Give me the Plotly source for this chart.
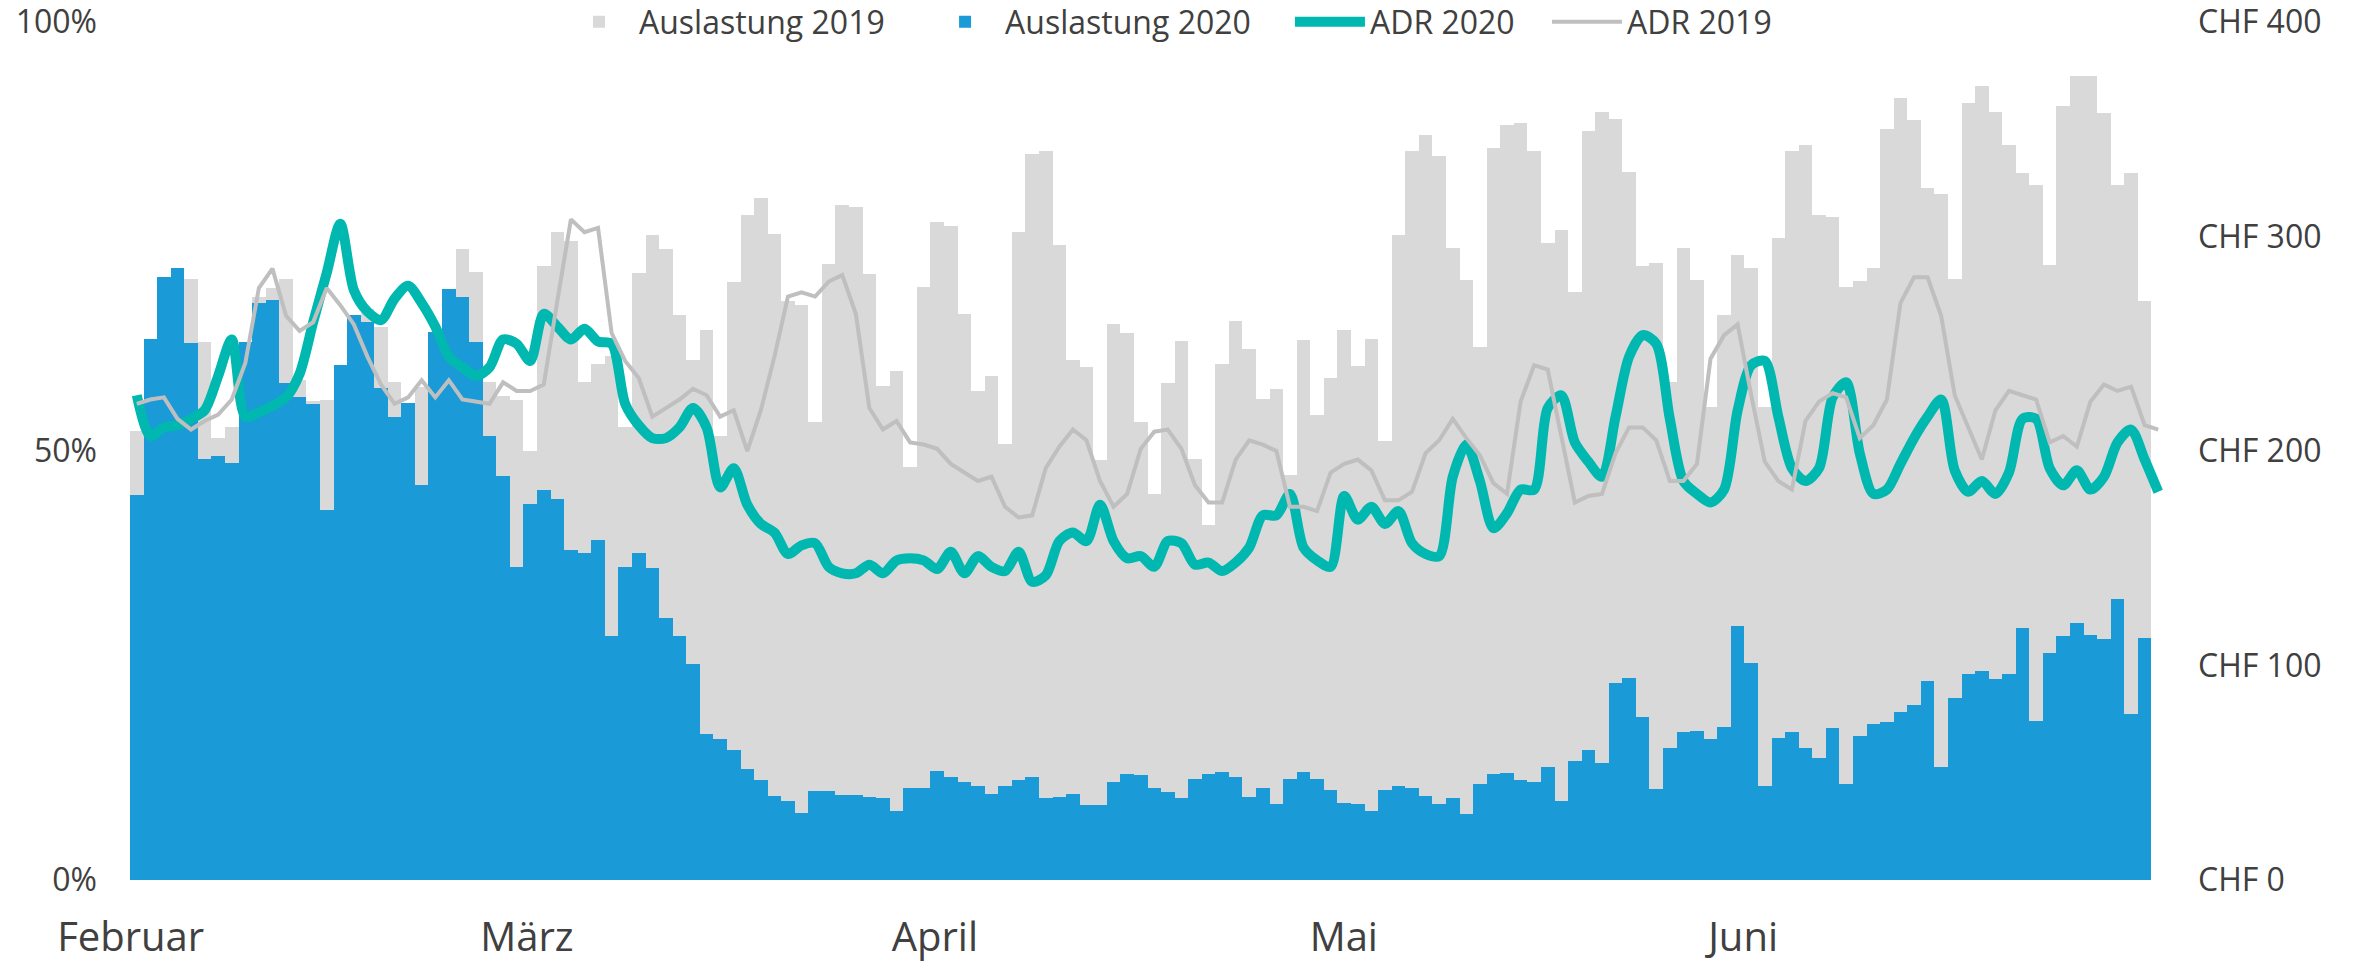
import pandas as pd
import plotly.graph_objects as go

# Tage 1. Februar bis 29. Juni 2020
days = pd.date_range("2020-02-01", periods=150, freq="D")

month_labels = ["Februar", "März", "April", "Mai", "Juni"]

# Auslastung in %
occupancy_2019 = [
    52.3, 58, 62, 60, 70.0, 62.7, 51.5, 52.8, 58, 68,
    69, 70.0, 58.3, 55.8, 55.9, 55, 62, 66.6, 64.5, 58.0,
    54, 57.5, 60, 66, 73.5, 70.9, 58, 56.4, 56.0, 50.0,
    71.6, 75.5, 74.5, 58, 60.1, 61.1, 52.8, 70.8, 75.2, 73.5,
    65.9, 60.6, 64.1, 51.8, 69.7, 77.5, 79.5, 75.3, 67.5, 67.0,
    53.4, 71.8, 78.7, 78.4, 70.6, 57.6, 59.3, 48.1, 69.1, 76.7,
    76.2, 66.0, 57.0, 58.7, 50.8, 75.5, 84.6, 85.0, 74.0, 60.6,
    59.8, 49.0, 64.8, 63.7, 53.4, 45.0, 57.9, 62.8, 49.1, 41.4,
    60.1, 65.1, 61.9, 56.1, 57.2, 47.2, 62.9, 54.2, 58.5, 64.1,
    59.9, 63.1, 51.2, 75.2, 85.0, 86.8, 84.4, 73.7, 69.9, 62.1,
    85.3, 88.0, 88.2, 85.0, 74.3, 75.8, 68.5, 87.3, 89.5, 88.7,
    82.5, 71.6, 71.9, 58.1, 73.7, 69.9, 55.1, 65.8, 72.8, 71.3,
    55.1, 74.8, 85.0, 85.7, 77.5, 77.3, 69.1, 69.8, 71.3, 87.5,
    91.2, 88.6, 80.6, 80.0, 70.1, 90.6, 92.5, 89.5, 85.7, 82.4,
    81.0, 71.7, 90.2, 93.7, 93.7, 89.4, 81.0, 82.4, 67.5, None,
]

occupancy_2020 = [
    44.9, 63.0, 70.3, 71.3, 62.6, 49.1, 49.4, 48.6, 62.7, 67.3,
    67.6, 57.9, 56.3, 55.5, 43.1, 60.0, 65.9, 65.0, 57.3, 54.0,
    55.6, 46.0, 63.9, 68.9, 67.9, 62.7, 51.7, 47.1, 36.5, 43.8,
    45.4, 44.4, 38.5, 38.1, 39.6, 28.4, 36.5, 38.1, 36.4, 30.5,
    28.4, 25.2, 17.0, 16.4, 15.2, 12.9, 11.7, 9.8, 9.2, 7.8,
    10.4, 10.4, 9.9, 9.9, 9.7, 9.5, 8.0, 10.7, 10.7, 12.7,
    12.0, 11.4, 11.0, 10.0, 10.9, 11.6, 12.0, 9.6, 9.7, 10.0,
    8.8, 8.8, 11.4, 12.4, 12.2, 10.7, 10.2, 9.5, 11.8, 12.4,
    12.6, 12.0, 9.7, 10.7, 8.9, 11.8, 12.6, 11.8, 10.5, 9.0,
    8.9, 8.0, 10.5, 11.0, 10.7, 9.8, 8.9, 9.6, 7.7, 11.2,
    12.4, 12.5, 11.7, 11.4, 13.2, 9.2, 13.9, 15.2, 13.6, 23.0,
    23.5, 19.0, 10.6, 15.4, 17.2, 17.4, 16.4, 17.8, 29.6, 25.3,
    11.0, 16.6, 17.3, 15.4, 14.2, 17.7, 11.2, 16.8, 18.2, 18.4,
    19.6, 20.4, 23.2, 13.2, 21.2, 24.0, 24.4, 23.4, 24.0, 29.4,
    18.5, 26.4, 28.4, 29.9, 28.5, 28.1, 32.7, 19.3, 28.2, None,
]

# ADR in CHF
adr_2020 = [
    226, 207, 211, 212, 215, 219, 235, 252, 216, 218,
    221, 225, 236, 260, 283, 306, 275, 265, 261, 271,
    277, 269, 258, 244, 239, 235, 239, 252, 250, 242,
    264, 258, 252, 257, 251, 250, 222, 212, 206, 206,
    211, 220, 211, 183, 192, 175, 166, 162, 152, 156,
    157, 146, 143, 143, 147, 143, 149, 150, 149, 145,
    153, 143, 151, 146, 144, 153, 139, 142, 158, 162,
    158, 175, 158, 150, 151, 146, 158, 157, 147, 148,
    144, 148, 155, 170, 170, 180, 155, 149, 146, 179,
    168, 174, 166, 172, 157, 152, 151, 188, 203, 186,
    164, 171, 182, 182, 220, 226, 204, 195, 188, 216,
    244, 254, 250, 215, 186, 180, 176, 182, 219, 240,
    242, 216, 192, 186, 192, 225, 232, 199, 180, 182,
    194, 206, 216, 224, 191, 181, 186, 180, 190, 215,
    215, 192, 184, 191, 182, 188, 204, 210, 196, 181,
]

adr_2019 = [
    222, 224, 225, 215, 210, 214, 217, 224, 241, 276,
    285, 263, 256, 260, 276, 268, 259, 244, 231, 222,
    225, 233, 225, 233, 224, 223, 222, 232, 228, 228,
    231, 270, 308, 302, 304, 255, 242, 234, 216, 220,
    224, 229, 226, 216, 219, 200, 219, 244, 272, 274,
    272, 279, 282, 264, 220, 210, 214, 204, 203, 201,
    194, 190, 186, 188, 174, 169, 170, 192, 202, 210,
    205, 186, 174, 180, 201, 209, 210, 201, 184, 176,
    176, 196, 205, 203, 200, 174, 174, 172, 190, 194,
    196, 191, 177, 177, 181, 199, 205, 215, 206, 198,
    185, 180, 223, 240, 238, 207, 176, 179, 180, 199,
    211, 211, 205, 186, 186, 194, 243, 254, 259, 226,
    195, 186, 182, 214, 223, 227, 225, 206, 212, 224,
    269, 281, 281, 263, 226, 211, 196, 219, 228, 226,
    224, 204, 207, 202, 223, 231, 228, 230, 212, 210,
]

TEXT = "#404040"
FONT = "Open Sans, Lato, sans-serif"

# Monatsbeschriftung, so wie sie im Original sitzt (in Tagen ab 1. Feb)
label_offsets = [-0.45, 28.76, 58.83, 88.97, 118.4]
label_pos = [days[0] + pd.Timedelta(days=o) for o in label_offsets]


def legend_box(x):
    """One legend per entry so the spacing can follow the original"""
    return dict(
        orientation="h",
        x=x, xanchor="left",
        y=1.0, yanchor="middle",
        bgcolor="rgba(0,0,0,0)",
        font=dict(size=32, color=TEXT),
        itemwidth=70,
    )


def value_axis(**kw):
    """Plain value axis: no grid, no line, labels only"""
    axis = dict(
        tickfont=dict(size=32, color=TEXT),
        ticks="",
        ticklabelstandoff=32,
        ticklabeloverflow="allow",
        showgrid=False,
        zeroline=False,
        showline=False,
        automargin=False,
    )
    axis.update(kw)
    return axis


fig = go.Figure()

fig.add_trace(go.Bar(
    x=days, y=occupancy_2019, name="Auslastung 2019", legend="legend",
    marker=dict(color="#D9D9D9", line=dict(width=0)),
))
fig.add_trace(go.Bar(
    x=days, y=occupancy_2020, name="Auslastung 2020", legend="legend2",
    marker=dict(color="#1A9AD6", line=dict(width=0)),
))
fig.add_trace(go.Scatter(
    x=days, y=adr_2020, name="ADR 2020", mode="lines", yaxis="y2", legend="legend3",
    line=dict(color="#00B8B0", width=10, shape="spline", smoothing=0.8),
))
fig.add_trace(go.Scatter(
    x=days, y=adr_2019, name="ADR 2019", mode="lines", yaxis="y2", legend="legend4",
    line=dict(color="#BFBFBF", width=4),
))

fig.update_layout(
    width=2356,
    height=968,
    barmode="overlay",
    bargap=0,
    plot_bgcolor="white",
    paper_bgcolor="white",
    font=dict(family=FONT, color=TEXT, size=32),
    margin=dict(l=130, r=191, t=22, b=88, autoexpand=False),
    showlegend=True,
    legend=legend_box(0.2108),
    legend2=legend_box(0.3907),
    legend3=legend_box(0.5700),
    legend4=legend_box(0.6963),
    xaxis=dict(
        range=[days[0] - pd.Timedelta(hours=12), days[-1] + pd.Timedelta(hours=12)],
        tickvals=label_pos,
        ticktext=month_labels,
        tickfont=dict(size=40, color=TEXT),
        ticks="",
        ticklabelstandoff=30,
        ticklabeloverflow="allow",
        showgrid=False,
        zeroline=False,
        showline=False,
        automargin=False,
    ),
    yaxis=value_axis(
        range=[0, 100],
        tickvals=[0, 50, 100],
        ticktext=["0%", "50%", "100%"],
    ),
    yaxis2=value_axis(
        overlaying="y",
        side="right",
        range=[0, 400],
        tickvals=[0, 100, 200, 300, 400],
        ticktext=["CHF 0", "CHF 100", "CHF 200", "CHF 300", "CHF 400"],
    ),
)

fig.write_html(
    "out.html",
    config={"displayModeBar": False},
    post_script="document.body.style.margin='0';",
)
